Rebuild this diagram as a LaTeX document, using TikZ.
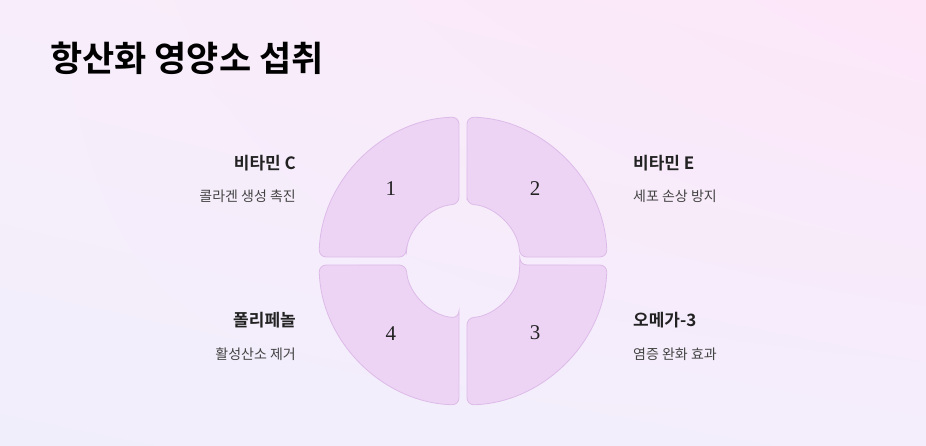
\documentclass[tikz,border=0pt]{standalone}
\usepackage{fontspec}
\usetikzlibrary{shadings}
\setmainfont{Liberation Serif}
\newfontfamily\kr{Noto Sans CJK KR}
\newfontfamily\krb{Noto Sans CJK KR Bold}
\definecolor{seg}{HTML}{EDD4F5}
\definecolor{segb}{HTML}{DDBBE8}
\definecolor{txt}{HTML}{222222}
\definecolor{bgul}{HTML}{F8EEFB}
\definecolor{bgur}{HTML}{FCE6F8}
\definecolor{bgll}{HTML}{F1EEFB}
\definecolor{bglr}{HTML}{F4EEFC}
\tikzset{
 quad/.style={fill=seg,draw=segb,line width=0.8pt,rounded corners=7pt},
 head/.style={font=\krb\fontsize{17}{20}\selectfont,text=txt,inner sep=0pt},
 desc/.style={font=\kr\fontsize{14}{17}\selectfont,text=txt!85,inner sep=0pt},
 num/.style={font=\fontsize{21}{24}\selectfont,text=txt,inner sep=0pt}
}
\begin{document}
\begin{tikzpicture}[x=1pt,y=1pt]
\shade[upper left=bgul,upper right=bgur,lower left=bgll,lower right=bglr] (0,0) rectangle (926,445);
\useasboundingbox (0,0) rectangle (926,445);
\coordinate (c) at (463,184);
\foreach \r/\n/\a in {0/2/45,90/1/135,180/4/225,270/3/315}{
 \begin{scope}[rotate around={\r:(c)}]
 \draw[quad] ([shift={(c)}]86:57) -- ([shift={(c)}]88.4:144) arc[start angle=88.4,end angle=1.6,radius=144] -- ([shift={(c)}]4:57) arc[start angle=4,end angle=86,radius=57] -- cycle;
 \end{scope}
 \node[num] (n\n) at ([shift={(c)}]\a:102) {\n};
}
\node[anchor=west,font=\krb\fontsize{35}{40}\selectfont,inner sep=0pt] (t) at (50,387) {항산화 영양소 섭취};
\node[head,anchor=east] (h1) at (296,282) {비타민 C};
\node[desc,anchor=east] (d1) at (296,249) {콜라겐 생성 촉진};
\node[head,anchor=west] (h2) at (633,282) {비타민 E};
\node[desc,anchor=west] (d2) at (633,249) {세포 손상 방지};
\node[head,anchor=east] (h4) at (296,125) {폴리페놀};
\node[desc,anchor=east] (d4) at (296,91) {활성산소 제거};
\node[head,anchor=west] (h3) at (633,125) {오메가-3};
\node[desc,anchor=west] (d3) at (633,91) {염증 완화 효과};
\end{tikzpicture}
\end{document}
